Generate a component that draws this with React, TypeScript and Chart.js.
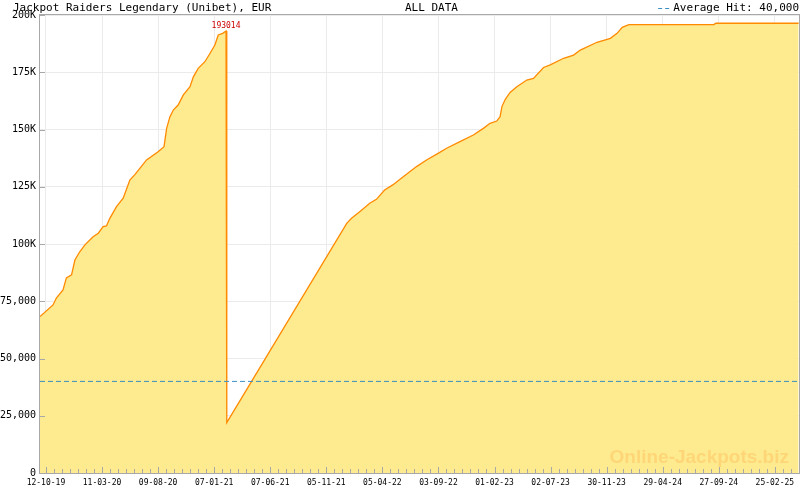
import { useEffect, useRef } from 'react';
import { Chart, registerables } from 'chart.js';

Chart.register(...registerables);

const TITLE = 'Jackpot Raiders Legendary (Unibet), EUR';
const SUBTITLE = 'ALL DATA';
const AVERAGE_LABEL = 'Average Hit: 40,000';
const AVERAGE_HIT = 40000;
const PEAK_LABEL = '193014';
const WATERMARK = 'Online-Jackpots.biz';

const AXIS_ORIGIN = '2019-10-12';
const X_MIN_DATE = '2019-09-26';
const X_MAX_DATE = '2025-05-01';
const X_TICK_STEP_DAYS = 151;
const X_MINOR_PER_MAJOR = 7;

const dates = [
  '2019-09-26', '2019-10-31', '2019-11-09', '2019-11-27', '2019-12-06', '2019-12-20', '2019-12-29',
  '2020-01-11', '2020-01-25', '2020-02-16', '2020-03-01', '2020-03-14', '2020-03-23', '2020-04-01',
  '2020-04-19', '2020-05-07', '2020-05-25', '2020-06-08', '2020-07-09', '2020-08-09', '2020-08-25',
  '2020-09-01', '2020-09-10', '2020-09-19', '2020-10-02', '2020-10-16', '2020-11-03', '2020-11-12',
  '2020-11-25', '2020-12-13', '2020-12-27', '2021-01-09', '2021-01-18', '2021-01-30', '2021-02-08',
  '2021-02-10', '2021-12-30', '2022-01-12', '2022-02-03', '2022-03-02', '2022-03-20', '2022-04-11',
  '2022-05-03', '2022-05-26', '2022-07-06', '2022-08-02', '2022-09-02', '2022-09-25', '2022-10-31',
  '2022-12-06', '2023-01-02', '2023-01-20', '2023-02-07', '2023-02-16', '2023-02-21', '2023-03-02',
  '2023-03-15', '2023-04-02', '2023-04-29', '2023-05-17', '2023-06-13', '2023-07-01', '2023-08-06',
  '2023-09-02', '2023-09-20', '2023-11-04', '2023-12-10', '2023-12-28', '2024-01-11', '2024-01-29',
  '2024-09-14', '2024-09-19', '2025-04-30',
];

const values = [
  68300, 73400, 76400, 79900, 85200, 86500, 93000,
  96600, 99600, 103200, 104700, 107600, 107900, 111200,
  116300, 120000, 127900, 130400, 136700, 140300, 142500,
  150500, 155600, 158500, 160700, 165100, 168700, 173000,
  176700, 179600, 183300, 186900, 191300, 192000, 193014,
  22000, 109000, 111200, 114100, 117800, 119500, 123600,
  125800, 128700, 133800, 136700, 139600, 141800, 144700,
  147600, 150500, 152700, 153700, 155600, 160000, 163200,
  166200, 168700, 171600, 172300, 177100, 178200, 181100,
  182500, 184700, 188100, 189800, 192000, 194600, 195800,
  195800, 196400, 196400,
];

const xTickLabels = [
  '12-10-19', '11-03-20', '09-08-20', '07-01-21', '07-06-21', '05-11-21', '05-04-22',
  '03-09-22', '01-02-23', '02-07-23', '30-11-23', '29-04-24', '27-09-24', '25-02-25',
];

const yTickValues = [0, 25000, 50000, 75000, 100000, 125000, 150000, 175000, 200000];
const yTickLabels = ['0', '25,000', '50,000', '75,000', '100K', '125K', '150K', '175K', '200K'];

const MONO = '"DejaVu Sans Mono", monospace';

function dayOf(s: string): number {
  const [y, m, d] = s.split('-').map(Number);
  const [oy, om, od] = AXIS_ORIGIN.split('-').map(Number);
  return (Date.UTC(y, m - 1, d) - Date.UTC(oy, om - 1, od)) / 86400000;
}

export default function App() {
  const ref = useRef<HTMLCanvasElement | null>(null);

  useEffect(() => {
    const canvas = ref.current;
    if (!canvas) return;
    const xMin = dayOf(X_MIN_DATE);
    const xMax = dayOf(X_MAX_DATE);
    const series = dates.map((d, i) => ({ x: dayOf(d), y: values[i] }));
    const peakIndex = values.indexOf(Math.max(...values.slice(0, 40)));

    const decor = {
      id: 'decor',
      beforeDraw(chart: any) {
        const ctx = chart.ctx;
        ctx.save();
        ctx.fillStyle = '#ffffff';
        ctx.fillRect(0, 0, chart.width, chart.height);
        ctx.restore();
      },
      afterDatasetsDraw(chart: any) {
        const ctx = chart.ctx;
        const a = chart.chartArea;
        const xs = chart.scales.x;
        const ys = chart.scales.y;
        ctx.save();
        // watermark
        ctx.font = 'bold 19px "Liberation Sans", Arial, sans-serif';
        ctx.fillStyle = 'rgba(255, 190, 90, 0.45)';
        ctx.textAlign = 'right';
        ctx.textBaseline = 'alphabetic';
        ctx.fillText(WATERMARK, 789, 463);

        // border
        ctx.strokeStyle = '#a8a8a8';
        ctx.lineWidth = 1;
        ctx.strokeRect(Math.round(a.left) - 0.5, Math.round(a.top) - 0.5, Math.round(a.right - a.left) + 1, Math.round(a.bottom - a.top) + 1);

        // y ticks inward
        ctx.beginPath();
        for (const v of yTickValues) {
          const py = Math.round(ys.getPixelForValue(v)) + 0.5;
          ctx.moveTo(a.left, py);
          ctx.lineTo(a.left + 5, py);
        }
        // x ticks inward
        const minorStep = X_TICK_STEP_DAYS / X_MINOR_PER_MAJOR;
        const nMinor = Math.floor(xMax / minorStep);
        for (let k = 0; k <= nMinor; k++) {
          const px = Math.round(xs.getPixelForValue(k * minorStep)) + 0.5;
          if (px < a.left || px > a.right) continue;
          const len = k % X_MINOR_PER_MAJOR === 0 ? 6 : 4;
          ctx.moveTo(px, a.bottom);
          ctx.lineTo(px, a.bottom - len);
        }
        ctx.stroke();

        // peak label
        const px = xs.getPixelForValue(series[peakIndex].x);
        const py = ys.getPixelForValue(series[peakIndex].y);
        ctx.font = '8px ' + MONO;
        ctx.fillStyle = '#cc0000';
        ctx.textAlign = 'center';
        ctx.textBaseline = 'bottom';
        ctx.fillText(PEAK_LABEL, px, py - 1);

        // header
        ctx.font = '11px ' + MONO;
        ctx.fillStyle = '#000000';
        ctx.textBaseline = 'middle';
        ctx.textAlign = 'left';
        ctx.fillText(TITLE, 13, 8);
        ctx.fillText(SUBTITLE, 405, 8);
        ctx.textAlign = 'right';
        ctx.fillText(AVERAGE_LABEL, 799, 8);
        const w = ctx.measureText(AVERAGE_LABEL).width;
        const end = 799 - w - 3;
        ctx.strokeStyle = '#3a8fc4';
        ctx.beginPath();
        ctx.moveTo(end - 12, 8.5);
        ctx.lineTo(end - 8, 8.5);
        ctx.moveTo(end - 5, 8.5);
        ctx.lineTo(end - 1, 8.5);
        ctx.stroke();
        ctx.restore();
      },
    };

    const chart = new Chart(canvas, {
      type: 'line',
      data: {
        datasets: [
          {
            data: series,
            borderColor: '#ff8a00',
            borderWidth: 1.3,
            backgroundColor: '#feea8f',
            fill: 'origin',
            pointRadius: 0,
            tension: 0,
            order: 2,
          },
          {
            data: [
              { x: xMin, y: AVERAGE_HIT },
              { x: xMax, y: AVERAGE_HIT },
            ],
            borderColor: '#3a8fc4',
            borderWidth: 1,
            borderDash: [5, 3],
            fill: false,
            pointRadius: 0,
            order: 1,
          },
        ],
      },
      options: {
        responsive: false,
        animation: false,
        devicePixelRatio: 1,
        parsing: false,
        layout: { padding: { top: 15, right: 1, left: 0, bottom: 0 } },
        plugins: { legend: { display: false }, tooltip: { enabled: false }, title: { display: false } },
        scales: {
          x: {
            type: 'linear',
            min: xMin,
            max: xMax,
            afterBuildTicks: (scale: any) => {
              scale.ticks = xTickLabels.map((_, i) => ({ value: i * X_TICK_STEP_DAYS }));
            },
            afterFit: (scale: any) => {
              scale.height = 17;
            },
            grid: { color: '#ebebeb', drawTicks: false, lineWidth: 1 },
            border: { display: false },
            ticks: {
              autoSkip: false,
              maxRotation: 0,
              padding: 5,
              color: '#000000',
              font: { family: MONO, size: 8 },
              callback: (v: any) => xTickLabels[Math.round(Number(v) / X_TICK_STEP_DAYS)] ?? '',
            },
          },
          y: {
            type: 'linear',
            min: 0,
            max: 200000,
            afterBuildTicks: (scale: any) => {
              scale.ticks = yTickValues.map((v) => ({ value: v }));
            },
            afterFit: (scale: any) => {
              scale.width = 40;
            },
            grid: { color: '#ebebeb', drawTicks: false, lineWidth: 1 },
            border: { display: false },
            ticks: {
              padding: 4,
              color: '#000000',
              font: { family: MONO, size: 10 },
              callback: (v: any) => yTickLabels[yTickValues.indexOf(Number(v))] ?? '',
            },
          },
        },
      },
      plugins: [decor],
    });
    return () => chart.destroy();
  }, []);

  return (
    <div style={{ position: 'fixed', left: 0, top: 0, width: 800, height: 490 }}>
      <canvas ref={ref} width={800} height={490} style={{ width: 800, height: 490, display: 'block' }} />
    </div>
  );
}
